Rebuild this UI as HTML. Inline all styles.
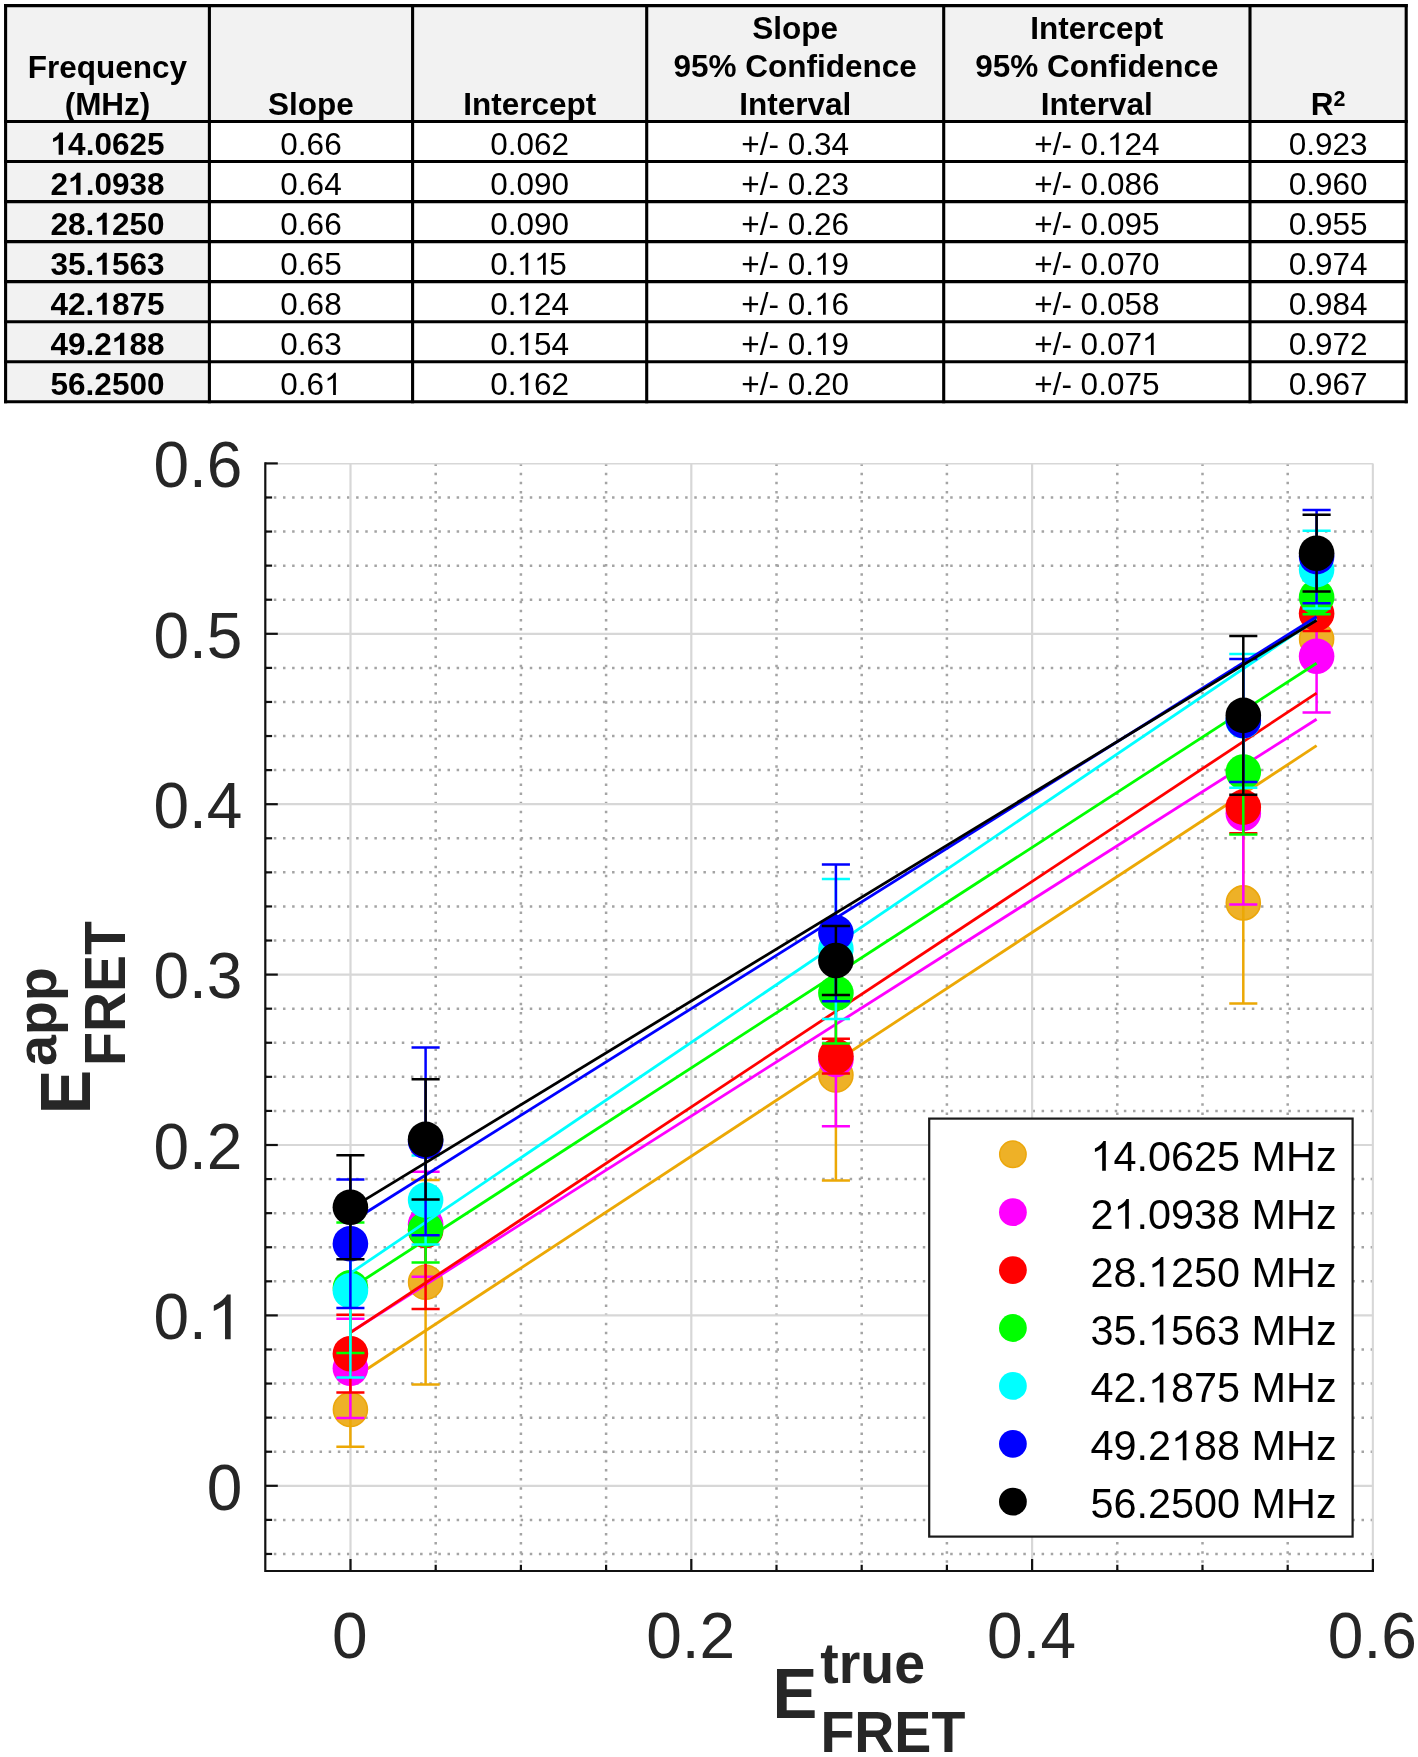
<!DOCTYPE html>
<html><head><meta charset="utf-8"><title>FRET fit table and plot</title>
<style>html,body{margin:0;padding:0;background:#fff}body{width:1418px;height:1757px;overflow:hidden}svg{display:block}text{font-family:"Liberation Sans",sans-serif}.b{font-weight:bold}</style>
</head><body>
<svg width="1418" height="1757" viewBox="0 0 1418 1757">
<rect x="0" y="0" width="1418" height="1757" fill="#fff"/>
<g id="table">
<rect x="5.6" y="5.6" width="1400.6" height="115.9" fill="#f2f2f2"/>
<rect x="5.6" y="5.6" width="203.8" height="396.1" fill="#f2f2f2"/>
<g stroke="#000" stroke-width="3.1" stroke-linecap="square">
<line x1="5.60" y1="5.60" x2="5.60" y2="401.70"/>
<line x1="209.40" y1="5.60" x2="209.40" y2="401.70"/>
<line x1="412.60" y1="5.60" x2="412.60" y2="401.70"/>
<line x1="646.70" y1="5.60" x2="646.70" y2="401.70"/>
<line x1="943.70" y1="5.60" x2="943.70" y2="401.70"/>
<line x1="1250.00" y1="5.60" x2="1250.00" y2="401.70"/>
<line x1="1406.20" y1="5.60" x2="1406.20" y2="401.70"/>
<line x1="5.60" y1="5.60" x2="1406.20" y2="5.60"/>
<line x1="5.60" y1="121.50" x2="1406.20" y2="121.50"/>
<line x1="5.60" y1="161.55" x2="1406.20" y2="161.55"/>
<line x1="5.60" y1="201.60" x2="1406.20" y2="201.60"/>
<line x1="5.60" y1="241.60" x2="1406.20" y2="241.60"/>
<line x1="5.60" y1="281.65" x2="1406.20" y2="281.65"/>
<line x1="5.60" y1="321.70" x2="1406.20" y2="321.70"/>
<line x1="5.60" y1="361.70" x2="1406.20" y2="361.70"/>
<line x1="5.60" y1="401.70" x2="1406.20" y2="401.70"/>
</g>
<g font-size="31.5" fill="#000" style="will-change:transform">
<text class="b" text-anchor="middle" x="107.5" y="77.5">Frequency</text>
<text class="b" text-anchor="middle" x="107.5" y="115.4">(MHz)</text>
<text class="b" text-anchor="middle" x="311.0" y="114.9">Slope</text>
<text class="b" text-anchor="middle" x="529.7" y="114.9">Intercept</text>
<text class="b" text-anchor="middle" x="795.2" y="38.7">Slope</text>
<text class="b" text-anchor="middle" x="795.2" y="77.0">95% Confidence</text>
<text class="b" text-anchor="middle" x="795.2" y="114.9">Interval</text>
<text class="b" text-anchor="middle" x="1096.8" y="38.7">Intercept</text>
<text class="b" text-anchor="middle" x="1096.8" y="77.0">95% Confidence</text>
<text class="b" text-anchor="middle" x="1096.8" y="114.9">Interval</text>
<text class="b" text-anchor="middle" x="1328.1" y="114.9">R<tspan font-size="21.5" dy="-8.5">2</tspan></text>
<text x="50.58" y="154.70" class="b"><tspan visibility="hidden">1</tspan>4.0625</text><path transform="translate(50.58 154.70) scale(0.01538 -0.01501)" d="M806 0H525V1059Q371 915 162 846V1101Q272 1137 401 1237.5T578 1472H806Z"/>
<text x="280.35" y="154.70">0.66</text>
<text x="490.24" y="154.70">0.062</text>
<text x="741.35" y="154.70">+/- 0.34</text>
<text x="1034.24" y="154.70">+/- 0.<tspan visibility="hidden">1</tspan>24</text><path transform="translate(1106.91 154.70) scale(0.01538 -0.01501)" d="M763 0H583V1147Q518 1085 412.5 1023T223 930V1104Q374 1175 487 1276T647 1472H763Z"/>
<text x="1288.69" y="154.70">0.923</text>
<text x="50.58" y="194.75" class="b">2<tspan visibility="hidden">1</tspan>.0938</text><path transform="translate(68.09 194.75) scale(0.01538 -0.01501)" d="M806 0H525V1059Q371 915 162 846V1101Q272 1137 401 1237.5T578 1472H806Z"/>
<text x="280.35" y="194.75">0.64</text>
<text x="490.24" y="194.75">0.090</text>
<text x="741.35" y="194.75">+/- 0.23</text>
<text x="1034.24" y="194.75">+/- 0.086</text>
<text x="1288.69" y="194.75">0.960</text>
<text x="50.58" y="234.80" class="b">28.<tspan visibility="hidden">1</tspan>250</text><path transform="translate(94.36 234.80) scale(0.01538 -0.01501)" d="M806 0H525V1059Q371 915 162 846V1101Q272 1137 401 1237.5T578 1472H806Z"/>
<text x="280.35" y="234.80">0.66</text>
<text x="490.24" y="234.80">0.090</text>
<text x="741.35" y="234.80">+/- 0.26</text>
<text x="1034.24" y="234.80">+/- 0.095</text>
<text x="1288.69" y="234.80">0.955</text>
<text x="50.58" y="274.80" class="b">35.<tspan visibility="hidden">1</tspan>563</text><path transform="translate(94.36 274.80) scale(0.01538 -0.01501)" d="M806 0H525V1059Q371 915 162 846V1101Q272 1137 401 1237.5T578 1472H806Z"/>
<text x="280.35" y="274.80">0.65</text>
<text x="490.24" y="274.80">0.<tspan visibility="hidden">1</tspan><tspan visibility="hidden">1</tspan>5</text><path transform="translate(516.51 274.80) scale(0.01538 -0.01501)" d="M763 0H583V1147Q518 1085 412.5 1023T223 930V1104Q374 1175 487 1276T647 1472H763Z"/><path transform="translate(534.03 274.80) scale(0.01538 -0.01501)" d="M763 0H583V1147Q518 1085 412.5 1023T223 930V1104Q374 1175 487 1276T647 1472H763Z"/>
<text x="741.35" y="274.80">+/- 0.<tspan visibility="hidden">1</tspan>9</text><path transform="translate(814.02 274.80) scale(0.01538 -0.01501)" d="M763 0H583V1147Q518 1085 412.5 1023T223 930V1104Q374 1175 487 1276T647 1472H763Z"/>
<text x="1034.24" y="274.80">+/- 0.070</text>
<text x="1288.69" y="274.80">0.974</text>
<text x="50.58" y="314.85" class="b">42.<tspan visibility="hidden">1</tspan>875</text><path transform="translate(94.36 314.85) scale(0.01538 -0.01501)" d="M806 0H525V1059Q371 915 162 846V1101Q272 1137 401 1237.5T578 1472H806Z"/>
<text x="280.35" y="314.85">0.68</text>
<text x="490.24" y="314.85">0.<tspan visibility="hidden">1</tspan>24</text><path transform="translate(516.51 314.85) scale(0.01538 -0.01501)" d="M763 0H583V1147Q518 1085 412.5 1023T223 930V1104Q374 1175 487 1276T647 1472H763Z"/>
<text x="741.35" y="314.85">+/- 0.<tspan visibility="hidden">1</tspan>6</text><path transform="translate(814.02 314.85) scale(0.01538 -0.01501)" d="M763 0H583V1147Q518 1085 412.5 1023T223 930V1104Q374 1175 487 1276T647 1472H763Z"/>
<text x="1034.24" y="314.85">+/- 0.058</text>
<text x="1288.69" y="314.85">0.984</text>
<text x="50.58" y="354.90" class="b">49.2<tspan visibility="hidden">1</tspan>88</text><path transform="translate(111.88 354.90) scale(0.01538 -0.01501)" d="M806 0H525V1059Q371 915 162 846V1101Q272 1137 401 1237.5T578 1472H806Z"/>
<text x="280.35" y="354.90">0.63</text>
<text x="490.24" y="354.90">0.<tspan visibility="hidden">1</tspan>54</text><path transform="translate(516.51 354.90) scale(0.01538 -0.01501)" d="M763 0H583V1147Q518 1085 412.5 1023T223 930V1104Q374 1175 487 1276T647 1472H763Z"/>
<text x="741.35" y="354.90">+/- 0.<tspan visibility="hidden">1</tspan>9</text><path transform="translate(814.02 354.90) scale(0.01538 -0.01501)" d="M763 0H583V1147Q518 1085 412.5 1023T223 930V1104Q374 1175 487 1276T647 1472H763Z"/>
<text x="1034.24" y="354.90">+/- 0.07<tspan visibility="hidden">1</tspan></text><path transform="translate(1141.94 354.90) scale(0.01538 -0.01501)" d="M763 0H583V1147Q518 1085 412.5 1023T223 930V1104Q374 1175 487 1276T647 1472H763Z"/>
<text x="1288.69" y="354.90">0.972</text>
<text x="50.58" y="394.90" class="b">56.2500</text>
<text x="280.35" y="394.90">0.6<tspan visibility="hidden">1</tspan></text><path transform="translate(324.14 394.90) scale(0.01538 -0.01501)" d="M763 0H583V1147Q518 1085 412.5 1023T223 930V1104Q374 1175 487 1276T647 1472H763Z"/>
<text x="490.24" y="394.90">0.<tspan visibility="hidden">1</tspan>62</text><path transform="translate(516.51 394.90) scale(0.01538 -0.01501)" d="M763 0H583V1147Q518 1085 412.5 1023T223 930V1104Q374 1175 487 1276T647 1472H763Z"/>
<text x="741.35" y="394.90">+/- 0.20</text>
<text x="1034.24" y="394.90">+/- 0.075</text>
<text x="1288.69" y="394.90">0.967</text>
</g></g>
<g id="chart">
<g stroke="#a4a4a4" stroke-width="2.5" stroke-dasharray="2.5 6.64" fill="none">
<line x1="265.30" y1="1553.96" x2="1372.90" y2="1553.96" stroke-dashoffset="0.6"/>
<line x1="265.30" y1="1519.88" x2="1372.90" y2="1519.88" stroke-dashoffset="0.6"/>
<line x1="265.30" y1="1451.72" x2="1372.90" y2="1451.72" stroke-dashoffset="0.6"/>
<line x1="265.30" y1="1417.64" x2="1372.90" y2="1417.64" stroke-dashoffset="0.6"/>
<line x1="265.30" y1="1383.56" x2="1372.90" y2="1383.56" stroke-dashoffset="0.6"/>
<line x1="265.30" y1="1349.48" x2="1372.90" y2="1349.48" stroke-dashoffset="0.6"/>
<line x1="265.30" y1="1281.32" x2="1372.90" y2="1281.32" stroke-dashoffset="0.6"/>
<line x1="265.30" y1="1247.24" x2="1372.90" y2="1247.24" stroke-dashoffset="0.6"/>
<line x1="265.30" y1="1213.16" x2="1372.90" y2="1213.16" stroke-dashoffset="0.6"/>
<line x1="265.30" y1="1179.08" x2="1372.90" y2="1179.08" stroke-dashoffset="0.6"/>
<line x1="265.30" y1="1110.92" x2="1372.90" y2="1110.92" stroke-dashoffset="0.6"/>
<line x1="265.30" y1="1076.84" x2="1372.90" y2="1076.84" stroke-dashoffset="0.6"/>
<line x1="265.30" y1="1042.76" x2="1372.90" y2="1042.76" stroke-dashoffset="0.6"/>
<line x1="265.30" y1="1008.68" x2="1372.90" y2="1008.68" stroke-dashoffset="0.6"/>
<line x1="265.30" y1="940.52" x2="1372.90" y2="940.52" stroke-dashoffset="0.6"/>
<line x1="265.30" y1="906.44" x2="1372.90" y2="906.44" stroke-dashoffset="0.6"/>
<line x1="265.30" y1="872.36" x2="1372.90" y2="872.36" stroke-dashoffset="0.6"/>
<line x1="265.30" y1="838.28" x2="1372.90" y2="838.28" stroke-dashoffset="0.6"/>
<line x1="265.30" y1="770.12" x2="1372.90" y2="770.12" stroke-dashoffset="0.6"/>
<line x1="265.30" y1="736.04" x2="1372.90" y2="736.04" stroke-dashoffset="0.6"/>
<line x1="265.30" y1="701.96" x2="1372.90" y2="701.96" stroke-dashoffset="0.6"/>
<line x1="265.30" y1="667.88" x2="1372.90" y2="667.88" stroke-dashoffset="0.6"/>
<line x1="265.30" y1="599.72" x2="1372.90" y2="599.72" stroke-dashoffset="0.6"/>
<line x1="265.30" y1="565.64" x2="1372.90" y2="565.64" stroke-dashoffset="0.6"/>
<line x1="265.30" y1="531.56" x2="1372.90" y2="531.56" stroke-dashoffset="0.6"/>
<line x1="265.30" y1="497.48" x2="1372.90" y2="497.48" stroke-dashoffset="0.6"/>
<line x1="435.70" y1="463.40" x2="435.70" y2="1571.00" stroke-dashoffset="-0.15"/>
<line x1="520.90" y1="463.40" x2="520.90" y2="1571.00" stroke-dashoffset="-0.15"/>
<line x1="606.10" y1="463.40" x2="606.10" y2="1571.00" stroke-dashoffset="-0.15"/>
<line x1="776.50" y1="463.40" x2="776.50" y2="1571.00" stroke-dashoffset="-0.15"/>
<line x1="861.70" y1="463.40" x2="861.70" y2="1571.00" stroke-dashoffset="-0.15"/>
<line x1="946.90" y1="463.40" x2="946.90" y2="1571.00" stroke-dashoffset="-0.15"/>
<line x1="1117.30" y1="463.40" x2="1117.30" y2="1571.00" stroke-dashoffset="-0.15"/>
<line x1="1202.50" y1="463.40" x2="1202.50" y2="1571.00" stroke-dashoffset="-0.15"/>
<line x1="1287.70" y1="463.40" x2="1287.70" y2="1571.00" stroke-dashoffset="-0.15"/>
</g>
<clipPath id="axclip"><rect x="265.30" y="463.00" width="1108.60" height="1108.00"/></clipPath>
<g stroke="#d7d7d7" stroke-width="2.2" fill="none" clip-path="url(#axclip)">
<line x1="265.30" y1="1485.80" x2="1372.90" y2="1485.80"/>
<line x1="265.30" y1="1315.40" x2="1372.90" y2="1315.40"/>
<line x1="265.30" y1="1145.00" x2="1372.90" y2="1145.00"/>
<line x1="265.30" y1="974.60" x2="1372.90" y2="974.60"/>
<line x1="265.30" y1="804.20" x2="1372.90" y2="804.20"/>
<line x1="265.30" y1="633.80" x2="1372.90" y2="633.80"/>
<line x1="265.30" y1="463.40" x2="1372.90" y2="463.40"/>
<line x1="350.50" y1="463.40" x2="350.50" y2="1571.00"/>
<line x1="691.30" y1="463.40" x2="691.30" y2="1571.00"/>
<line x1="1032.10" y1="463.40" x2="1032.10" y2="1571.00"/>
<line x1="1372.90" y1="463.40" x2="1372.90" y2="1571.00"/>
</g>
<g id="s_o">
<g fill="#EEB127" stroke="#ECA70C" stroke-width="1.6">
<circle cx="350.4" cy="1409.5" r="17.0"/>
<circle cx="425.6" cy="1282.2" r="17.0"/>
<circle cx="835.9" cy="1075.0" r="17.0"/>
<circle cx="1243.3" cy="902.9" r="17.0"/>
<circle cx="1316.6" cy="639.2" r="17.0"/>
</g>
<path d="M350.4 1372.2V1446.8M336.35 1372.2H364.45M336.35 1446.8H364.45M425.6 1180.0V1384.4M411.55 1180.0H439.65M411.55 1384.4H439.65M835.9 969.4V1180.6M821.85 969.4H849.95M821.85 1180.6H849.95M1243.3 802.3V1003.5M1229.25 802.3H1257.35M1229.25 1003.5H1257.35M1316.6 619.2V659.2M1302.55 619.2H1330.65M1302.55 659.2H1330.65" stroke="#ECA805" stroke-width="2.5" fill="none"/>
<line x1="350.4" y1="1380.0" x2="1316.6" y2="745.7" stroke="#ECA805" stroke-width="2.8"/>
</g>
<g id="s_m">
<g fill="#FF00FF">
<circle cx="350.4" cy="1368.3" r="17.8"/>
<circle cx="425.6" cy="1224.2" r="17.8"/>
<circle cx="835.9" cy="1059.5" r="17.8"/>
<circle cx="1243.3" cy="813.2" r="17.8"/>
<circle cx="1316.6" cy="656.2" r="17.8"/>
</g>
<path d="M350.4 1318.7V1417.9M336.35 1318.7H364.45M336.35 1417.9H364.45M425.6 1171.7V1276.7M411.55 1171.7H439.65M411.55 1276.7H439.65M835.9 992.7V1126.3M821.85 992.7H849.95M821.85 1126.3H849.95M1243.3 721.9V904.5M1229.25 721.9H1257.35M1229.25 904.5H1257.35M1316.6 599.9V712.5M1302.55 599.9H1330.65M1302.55 712.5H1330.65" stroke="#FF00FF" stroke-width="2.5" fill="none"/>
<line x1="350.4" y1="1332.3" x2="1316.6" y2="719.3" stroke="#FF00FF" stroke-width="2.8"/>
</g>
<g id="s_r">
<g fill="#FF0000">
<circle cx="350.4" cy="1353.7" r="17.8"/>
<circle cx="425.6" cy="1230.5" r="17.8"/>
<circle cx="835.9" cy="1056.2" r="17.8"/>
<circle cx="1243.3" cy="807.1" r="17.8"/>
<circle cx="1316.6" cy="613.5" r="17.8"/>
</g>
<path d="M350.4 1314.8V1392.6M336.35 1314.8H364.45M336.35 1392.6H364.45M425.6 1152.0V1309.0M411.55 1152.0H439.65M411.55 1309.0H439.65M835.9 1038.8V1073.6M821.85 1038.8H849.95M821.85 1073.6H849.95M1243.3 780.9V833.3M1229.25 780.9H1257.35M1229.25 833.3H1257.35M1316.6 595.9V631.1M1302.55 595.9H1330.65M1302.55 631.1H1330.65" stroke="#FF0000" stroke-width="2.5" fill="none"/>
<line x1="350.4" y1="1332.6" x2="1316.6" y2="693.1" stroke="#FF0000" stroke-width="2.8"/>
</g>
<g id="s_g">
<g fill="#00FF00">
<circle cx="350.4" cy="1287.7" r="17.8"/>
<circle cx="425.6" cy="1229.6" r="17.8"/>
<circle cx="835.9" cy="993.1" r="17.8"/>
<circle cx="1243.3" cy="772.0" r="17.8"/>
<circle cx="1316.6" cy="597.2" r="17.8"/>
</g>
<path d="M350.4 1222.5V1352.9M336.35 1222.5H364.45M336.35 1352.9H364.45M425.6 1196.7V1262.5M411.55 1196.7H439.65M411.55 1262.5H439.65M835.9 942.7V1043.5M821.85 942.7H849.95M821.85 1043.5H849.95M1243.3 709.6V834.4M1229.25 709.6H1257.35M1229.25 834.4H1257.35M1316.6 580.2V614.2M1302.55 580.2H1330.65M1302.55 614.2H1330.65" stroke="#00FF00" stroke-width="2.5" fill="none"/>
<line x1="350.4" y1="1288.5" x2="1316.6" y2="663.3" stroke="#00FF00" stroke-width="2.8"/>
</g>
<g id="s_c">
<g fill="#00FFFF">
<circle cx="350.4" cy="1290.7" r="17.8"/>
<circle cx="425.6" cy="1200.1" r="17.8"/>
<circle cx="835.9" cy="948.9" r="17.8"/>
<circle cx="1243.3" cy="720.9" r="17.8"/>
<circle cx="1316.6" cy="569.6" r="17.8"/>
</g>
<path d="M350.4 1204.0V1377.4M336.35 1204.0H364.45M336.35 1377.4H364.45M425.6 1155.6V1244.6M411.55 1155.6H439.65M411.55 1244.6H439.65M835.9 878.9V1018.9M821.85 878.9H849.95M821.85 1018.9H849.95M1243.3 654.1V787.7M1229.25 654.1H1257.35M1229.25 787.7H1257.35M1316.6 530.8V608.4M1302.55 530.8H1330.65M1302.55 608.4H1330.65" stroke="#00FFFF" stroke-width="2.5" fill="none"/>
<line x1="350.4" y1="1273.2" x2="1316.6" y2="619.0" stroke="#00FFFF" stroke-width="2.8"/>
</g>
<g id="s_b">
<g fill="#0000FF">
<circle cx="350.4" cy="1243.7" r="17.8"/>
<circle cx="425.6" cy="1141.3" r="17.8"/>
<circle cx="835.9" cy="932.8" r="17.8"/>
<circle cx="1243.3" cy="720.5" r="17.8"/>
<circle cx="1316.6" cy="556.6" r="17.8"/>
</g>
<path d="M350.4 1179.5V1307.9M336.35 1179.5H364.45M336.35 1307.9H364.45M425.6 1047.4V1235.2M411.55 1047.4H439.65M411.55 1235.2H439.65M835.9 864.4V1001.2M821.85 864.4H849.95M821.85 1001.2H849.95M1243.3 658.9V782.1M1229.25 658.9H1257.35M1229.25 782.1H1257.35M1316.6 509.9V603.3M1302.55 509.9H1330.65M1302.55 603.3H1330.65" stroke="#0000FF" stroke-width="2.5" fill="none"/>
<line x1="350.4" y1="1222.2" x2="1316.6" y2="616.8" stroke="#0000FF" stroke-width="2.8"/>
</g>
<g id="s_k">
<g fill="#000000">
<circle cx="350.4" cy="1207.2" r="17.8"/>
<circle cx="425.6" cy="1139.4" r="17.8"/>
<circle cx="835.9" cy="960.5" r="17.8"/>
<circle cx="1243.3" cy="715.4" r="17.8"/>
<circle cx="1316.6" cy="553.2" r="17.8"/>
</g>
<path d="M350.4 1155.2V1259.2M336.35 1155.2H364.45M336.35 1259.2H364.45M425.6 1079.2V1199.6M411.55 1079.2H439.65M411.55 1199.6H439.65M835.9 926.0V995.0M821.85 926.0H849.95M821.85 995.0H849.95M1243.3 636.1V794.7M1229.25 636.1H1257.35M1229.25 794.7H1257.35M1316.6 514.8V591.6M1302.55 514.8H1330.65M1302.55 591.6H1330.65" stroke="#000000" stroke-width="2.5" fill="none"/>
<line x1="350.4" y1="1208.6" x2="1316.6" y2="620.2" stroke="#000000" stroke-width="2.8"/>
</g>
<g stroke="#111" stroke-width="2.2" fill="none" stroke-linecap="butt">
<path d="M265.30 462.30V1571.00H1374.00"/>
<line x1="265.30" y1="1553.96" x2="272.10" y2="1553.96"/>
<line x1="265.30" y1="1519.88" x2="272.10" y2="1519.88"/>
<line x1="265.30" y1="1485.80" x2="277.80" y2="1485.80"/>
<line x1="265.30" y1="1451.72" x2="272.10" y2="1451.72"/>
<line x1="265.30" y1="1417.64" x2="272.10" y2="1417.64"/>
<line x1="265.30" y1="1383.56" x2="272.10" y2="1383.56"/>
<line x1="265.30" y1="1349.48" x2="272.10" y2="1349.48"/>
<line x1="265.30" y1="1315.40" x2="277.80" y2="1315.40"/>
<line x1="265.30" y1="1281.32" x2="272.10" y2="1281.32"/>
<line x1="265.30" y1="1247.24" x2="272.10" y2="1247.24"/>
<line x1="265.30" y1="1213.16" x2="272.10" y2="1213.16"/>
<line x1="265.30" y1="1179.08" x2="272.10" y2="1179.08"/>
<line x1="265.30" y1="1145.00" x2="277.80" y2="1145.00"/>
<line x1="265.30" y1="1110.92" x2="272.10" y2="1110.92"/>
<line x1="265.30" y1="1076.84" x2="272.10" y2="1076.84"/>
<line x1="265.30" y1="1042.76" x2="272.10" y2="1042.76"/>
<line x1="265.30" y1="1008.68" x2="272.10" y2="1008.68"/>
<line x1="265.30" y1="974.60" x2="277.80" y2="974.60"/>
<line x1="265.30" y1="940.52" x2="272.10" y2="940.52"/>
<line x1="265.30" y1="906.44" x2="272.10" y2="906.44"/>
<line x1="265.30" y1="872.36" x2="272.10" y2="872.36"/>
<line x1="265.30" y1="838.28" x2="272.10" y2="838.28"/>
<line x1="265.30" y1="804.20" x2="277.80" y2="804.20"/>
<line x1="265.30" y1="770.12" x2="272.10" y2="770.12"/>
<line x1="265.30" y1="736.04" x2="272.10" y2="736.04"/>
<line x1="265.30" y1="701.96" x2="272.10" y2="701.96"/>
<line x1="265.30" y1="667.88" x2="272.10" y2="667.88"/>
<line x1="265.30" y1="633.80" x2="277.80" y2="633.80"/>
<line x1="265.30" y1="599.72" x2="272.10" y2="599.72"/>
<line x1="265.30" y1="565.64" x2="272.10" y2="565.64"/>
<line x1="265.30" y1="531.56" x2="272.10" y2="531.56"/>
<line x1="265.30" y1="497.48" x2="272.10" y2="497.48"/>
<line x1="265.30" y1="463.40" x2="277.80" y2="463.40"/>
<line x1="350.50" y1="1571.00" x2="350.50" y2="1559.00"/>
<line x1="435.70" y1="1571.00" x2="435.70" y2="1564.80"/>
<line x1="520.90" y1="1571.00" x2="520.90" y2="1564.80"/>
<line x1="606.10" y1="1571.00" x2="606.10" y2="1564.80"/>
<line x1="691.30" y1="1571.00" x2="691.30" y2="1559.00"/>
<line x1="776.50" y1="1571.00" x2="776.50" y2="1564.80"/>
<line x1="861.70" y1="1571.00" x2="861.70" y2="1564.80"/>
<line x1="946.90" y1="1571.00" x2="946.90" y2="1564.80"/>
<line x1="1032.10" y1="1571.00" x2="1032.10" y2="1559.00"/>
<line x1="1117.30" y1="1571.00" x2="1117.30" y2="1564.80"/>
<line x1="1202.50" y1="1571.00" x2="1202.50" y2="1564.80"/>
<line x1="1287.70" y1="1571.00" x2="1287.70" y2="1564.80"/>
<line x1="1372.90" y1="1571.00" x2="1372.90" y2="1559.00"/>
</g>
<g font-size="63.9" fill="#262626">
<text x="206.82" y="1509.60" font-size="63.90" textLength="35.58" lengthAdjust="spacingAndGlyphs">0</text>
<text x="153.44" y="1339.20" font-size="63.90" textLength="88.96" lengthAdjust="spacingAndGlyphs">0.<tspan visibility="hidden">1</tspan></text><path transform="translate(206.82 1339.20) scale(0.03125 -0.03043)" d="M763 0H583V1147Q518 1085 412.5 1023T223 930V1104Q374 1175 487 1276T647 1472H763Z"/>
<text x="153.44" y="1168.80" font-size="63.90" textLength="88.96" lengthAdjust="spacingAndGlyphs">0.2</text>
<text x="153.44" y="998.40" font-size="63.90" textLength="88.96" lengthAdjust="spacingAndGlyphs">0.3</text>
<text x="153.44" y="828.00" font-size="63.90" textLength="88.96" lengthAdjust="spacingAndGlyphs">0.4</text>
<text x="153.44" y="657.60" font-size="63.90" textLength="88.96" lengthAdjust="spacingAndGlyphs">0.5</text>
<text x="153.44" y="487.20" font-size="63.90" textLength="88.96" lengthAdjust="spacingAndGlyphs">0.6</text>
<text x="332.11" y="1658.20" font-size="63.90" textLength="35.58" lengthAdjust="spacingAndGlyphs">0</text>
<text x="646.22" y="1658.20" font-size="63.90" textLength="88.96" lengthAdjust="spacingAndGlyphs">0.2</text>
<text x="987.02" y="1658.20" font-size="63.90" textLength="88.96" lengthAdjust="spacingAndGlyphs">0.4</text>
<text x="1327.82" y="1658.20" font-size="63.90" textLength="88.96" lengthAdjust="spacingAndGlyphs">0.6</text>
</g>
<g class="b" fill="#262626">
<text x="772.4" y="1718.2" font-size="71.2" textLength="44.8" lengthAdjust="spacingAndGlyphs">E</text>
<text x="820.2" y="1683.3" font-size="56.8" textLength="104.8" lengthAdjust="spacingAndGlyphs">true</text>
<text x="820.4" y="1752.0" font-size="56.8" textLength="144.9" lengthAdjust="spacingAndGlyphs">FRET</text>
<g transform="rotate(-90)">
<text x="-1114.2" y="89.6" font-size="71.2" textLength="44.4" lengthAdjust="spacingAndGlyphs">E</text>
<text x="-1066.0" y="55.9" font-size="56.3" textLength="98.7" lengthAdjust="spacingAndGlyphs">app</text>
<text x="-1065.9" y="124.9" font-size="58.0" textLength="144.9" lengthAdjust="spacingAndGlyphs">FRET</text>
</g></g>
<g id="legend">
<rect x="929.2" y="1118.6" width="423.4" height="418.0" fill="#fff" stroke="#1a1a1a" stroke-width="2.2"/>
<circle cx="1012.9" cy="1154.3" r="13.2" fill="#EEB127" stroke="#ECA70C" stroke-width="1.5"/>
<circle cx="1012.9" cy="1212.2" r="13.9" fill="#FF00FF"/>
<circle cx="1012.9" cy="1270.1" r="13.9" fill="#FF0000"/>
<circle cx="1012.9" cy="1328.0" r="13.9" fill="#00FF00"/>
<circle cx="1012.9" cy="1385.9" r="13.9" fill="#00FFFF"/>
<circle cx="1012.9" cy="1443.8" r="13.9" fill="#0000FF"/>
<circle cx="1012.9" cy="1501.7" r="13.9" fill="#000000"/>
<g font-size="42.7" fill="#000" style="will-change:transform">
<text x="1090.40" y="1170.80" font-size="42.70" textLength="246.21" lengthAdjust="spacingAndGlyphs"><tspan visibility="hidden">1</tspan>4.0625 MHz</text><path transform="translate(1090.40 1170.80) scale(0.02021 -0.02018)" d="M763 0H583V1147Q518 1085 412.5 1023T223 930V1104Q374 1175 487 1276T647 1472H763Z"/>
<text x="1090.40" y="1228.70" font-size="42.70" textLength="246.21" lengthAdjust="spacingAndGlyphs">2<tspan visibility="hidden">1</tspan>.0938 MHz</text><path transform="translate(1113.42 1228.70) scale(0.02021 -0.02018)" d="M763 0H583V1147Q518 1085 412.5 1023T223 930V1104Q374 1175 487 1276T647 1472H763Z"/>
<text x="1090.40" y="1286.60" font-size="42.70" textLength="246.21" lengthAdjust="spacingAndGlyphs">28.<tspan visibility="hidden">1</tspan>250 MHz</text><path transform="translate(1147.95 1286.60) scale(0.02021 -0.02018)" d="M763 0H583V1147Q518 1085 412.5 1023T223 930V1104Q374 1175 487 1276T647 1472H763Z"/>
<text x="1090.40" y="1344.50" font-size="42.70" textLength="246.21" lengthAdjust="spacingAndGlyphs">35.<tspan visibility="hidden">1</tspan>563 MHz</text><path transform="translate(1147.95 1344.50) scale(0.02021 -0.02018)" d="M763 0H583V1147Q518 1085 412.5 1023T223 930V1104Q374 1175 487 1276T647 1472H763Z"/>
<text x="1090.40" y="1402.40" font-size="42.70" textLength="246.21" lengthAdjust="spacingAndGlyphs">42.<tspan visibility="hidden">1</tspan>875 MHz</text><path transform="translate(1147.95 1402.40) scale(0.02021 -0.02018)" d="M763 0H583V1147Q518 1085 412.5 1023T223 930V1104Q374 1175 487 1276T647 1472H763Z"/>
<text x="1090.40" y="1460.30" font-size="42.70" textLength="246.21" lengthAdjust="spacingAndGlyphs">49.2<tspan visibility="hidden">1</tspan>88 MHz</text><path transform="translate(1170.96 1460.30) scale(0.02021 -0.02018)" d="M763 0H583V1147Q518 1085 412.5 1023T223 930V1104Q374 1175 487 1276T647 1472H763Z"/>
<text x="1090.40" y="1518.20" font-size="42.70" textLength="246.21" lengthAdjust="spacingAndGlyphs">56.2500 MHz</text>
</g>
</g>
</g>
</svg></body></html>
